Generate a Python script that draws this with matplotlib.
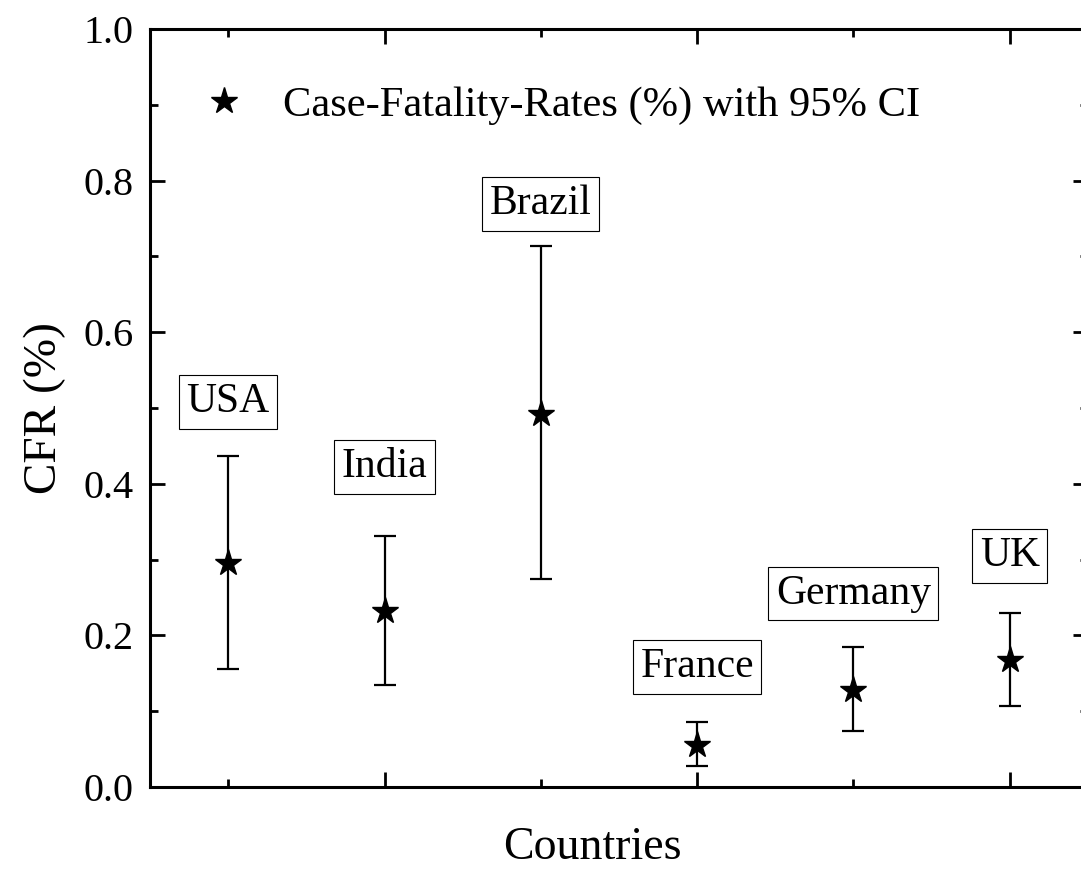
import matplotlib
matplotlib.use("Agg")
import matplotlib.pyplot as plt
from matplotlib.lines import Line2D
from matplotlib.ticker import MultipleLocator, NullFormatter

plt.rcParams["font.family"] = ["Liberation Serif", "DejaVu Serif"]

countries = ["USA", "India", "Brazil", "France", "Germany", "UK"]
cfr = [0.295, 0.232, 0.492, 0.055, 0.128, 0.168]
ci_low = [0.156, 0.135, 0.274, 0.028, 0.074, 0.107]
ci_high = [0.437, 0.331, 0.714, 0.086, 0.185, 0.230]
label_y = [0.508, 0.422, 0.769, 0.158, 0.255, 0.305]

x = list(range(1, len(countries) + 1))
err_lo = [c - l for c, l in zip(cfr, ci_low)]
err_hi = [h - c for c, h in zip(cfr, ci_high)]

fig = plt.figure(figsize=(10.81, 8.71), dpi=100)
ax = fig.add_axes([150 / 1081, 1 - 787 / 871, 938 / 1081, 758 / 871])

ax.errorbar(x, cfr, yerr=[err_lo, err_hi], fmt="*", color="black",
            markersize=20, ecolor="black", elinewidth=1.6, capsize=8,
            capthick=1.6)

# country name boxes
for xi, name, ly in zip(x, countries, label_y):
    ax.text(xi, ly, name, ha="center", va="center", fontsize=30,
            bbox=dict(boxstyle="square,pad=0.18", facecolor="white",
                      edgecolor="black", linewidth=0.8))

ax.set_xlim(0.5, 6.5)
ax.set_ylim(0, 1.0)
ax.xaxis.set_major_locator(MultipleLocator(2))
ax.xaxis.set_minor_locator(MultipleLocator(1))
ax.xaxis.set_major_formatter(NullFormatter())
ax.yaxis.set_major_locator(MultipleLocator(0.2))
ax.yaxis.set_minor_locator(MultipleLocator(0.1))
ax.yaxis.set_major_formatter(plt.FormatStrFormatter("%.1f"))

ax.tick_params(which="both", direction="in", top=True, right=True, width=2)
ax.tick_params(which="major", length=11, labelsize=29, pad=12)
ax.tick_params(which="minor", length=5.5)
for sp in ax.spines.values():
    sp.set_linewidth(2.2)

ax.set_xlabel("Countries", fontsize=33)
ax.xaxis.set_label_coords(0.472, -0.052)
ax.set_ylabel("CFR (%)", fontsize=34, labelpad=12)

handle = Line2D([], [], linestyle="none", marker="*", color="black",
                markersize=20)
ax.legend([handle], ["Case-Fatality-Rates (%) with 95% CI"],
          loc="upper left", bbox_to_anchor=(0.011, 0.975), frameon=False,
          fontsize=30.6, handlelength=1.2, handletextpad=0.78)

fig.savefig("out.png", dpi=100)
